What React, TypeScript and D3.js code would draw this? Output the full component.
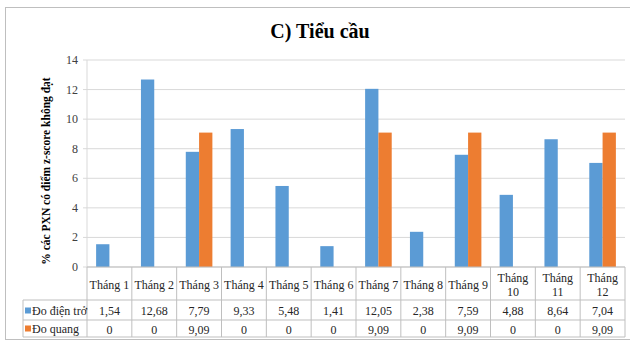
import React from "react";
import * as d3 from "d3";

const months = ["Tháng 1","Tháng 2","Tháng 3","Tháng 4","Tháng 5","Tháng 6","Tháng 7","Tháng 8","Tháng 9","Tháng 10","Tháng 11","Tháng 12"];
const monthLines = [["Tháng 1"],["Tháng 2"],["Tháng 3"],["Tháng 4"],["Tháng 5"],["Tháng 6"],["Tháng 7"],["Tháng 8"],["Tháng 9"],["Tháng","10"],["Tháng","11"],["Tháng","12"]];
const dienTro = [1.54, 12.68, 7.79, 9.33, 5.48, 1.41, 12.05, 2.38, 7.59, 4.88, 8.64, 7.04];
const quang = [0, 0, 9.09, 0, 0, 0, 9.09, 0, 9.09, 0, 0, 9.09];
const seriesNames = ["Đo điện trở", "Đo quang"];
const seriesColors = ["#5B9BD5", "#ED7D31"];
const yTicks = [0, 2, 4, 6, 8, 10, 12, 14];
const title = "C) Tiểu cầu";
const yTitle = "% các PXN có điểm z-score không đạt";

const fmt = (v: number) => (v === 0 ? "0" : v.toFixed(2).replace(".", ","));

export default function App() {
  const W = 630, H = 342;
  const left = 87, right = 625, top = 60, bottom = 267;
  const x = d3.scaleBand<string>().domain(months).range([left, right]).padding(0);
  const y = d3.scaleLinear().domain([0, 14]).range([bottom, top]);
  const bw = 13.3;
  const row1 = 300, row2 = 320, tableBottom = 337, legendLeft = 23;
  const font = "'Liberation Serif', 'Times New Roman', serif";
  const series = [dienTro, quang];
  const grid = "#d9d9d9";
  const tline = "#bfbfbf";
  return (
    <svg width={W} height={H} style={{ position: "absolute", left: 0, top: 0, display: "block" }} fontFamily={font}>
      <rect x={0} y={0} width={W} height={H} fill="#fff" />
      <rect x={5.5} y={7.5} width={640} height={332} fill="none" stroke="#bfbfbf" strokeWidth={1} />
      <text x={320} y={38} textAnchor="middle" fontSize={20} fontWeight="bold" fill="#000">{title}</text>
      {yTicks.map((t) => (
        <g key={t}>
          <line x1={left} x2={right} y1={y(t)} y2={y(t)} stroke={grid} strokeWidth={1} />
          <line x1={left - 4} x2={left} y1={y(t)} y2={y(t)} stroke={grid} strokeWidth={1} />
          <text x={78} y={y(t) + 4} textAnchor="end" fontSize={12} fill="#404040">{t}</text>
        </g>
      ))}
      <line x1={left} x2={left} y1={top} y2={bottom} stroke={grid} />
      <text transform={`translate(50,${171}) rotate(-90)`} textAnchor="middle" fontSize={11.5} fontWeight="bold" fill="#000">{yTitle}</text>
      {months.map((m, i) => {
        const c = (x(m) as number) + x.bandwidth() / 2;
        return series.map((s, j) => (
          <rect key={m + j} x={c - bw + j * bw} y={y(s[i])} width={bw} height={y(0) - y(s[i])} fill={seriesColors[j]} />
        ));
      })}
      {/* table */}
      <line x1={left} x2={right} y1={bottom} y2={bottom} stroke={tline} />
      <line x1={legendLeft} x2={right} y1={row1} y2={row1} stroke={tline} />
      <line x1={legendLeft} x2={right} y1={row2} y2={row2} stroke={tline} />
      <line x1={legendLeft} x2={right} y1={tableBottom} y2={tableBottom} stroke={tline} />
      <line x1={legendLeft} x2={legendLeft} y1={row1} y2={tableBottom} stroke={tline} />
      {months.map((m, i) => (
        <line key={"v" + m} x1={x(m) as number} x2={x(m) as number} y1={bottom} y2={tableBottom} stroke={tline} />
      ))}
      <line x1={right} x2={right} y1={bottom} y2={tableBottom} stroke={tline} />
      {months.map((m, i) => {
        const c = (x(m) as number) + x.bandwidth() / 2;
        const lines = monthLines[i];
        return (
          <g key={"t" + m} fontSize={12} fill="#262626" textAnchor="middle">
            {lines.length === 1 ? (
              <text x={c} y={289}>{lines[0]}</text>
            ) : (
              <>
                <text x={c} y={282}>{lines[0]}</text>
                <text x={c} y={296}>{lines[1]}</text>
              </>
            )}
            <text x={c} y={315}>{fmt(dienTro[i])}</text>
            <text x={c} y={334}>{fmt(quang[i])}</text>
          </g>
        );
      })}
      {seriesNames.map((n, j) => {
        const cy = j === 0 ? 311 : 329;
        return (
          <g key={n}>
            <rect x={25} y={cy - 3.5} width={6} height={6} fill={seriesColors[j]} />
            <text x={32} y={cy + 4} fontSize={12} fill="#262626">{n}</text>
          </g>
        );
      })}
    </svg>
  );
}
